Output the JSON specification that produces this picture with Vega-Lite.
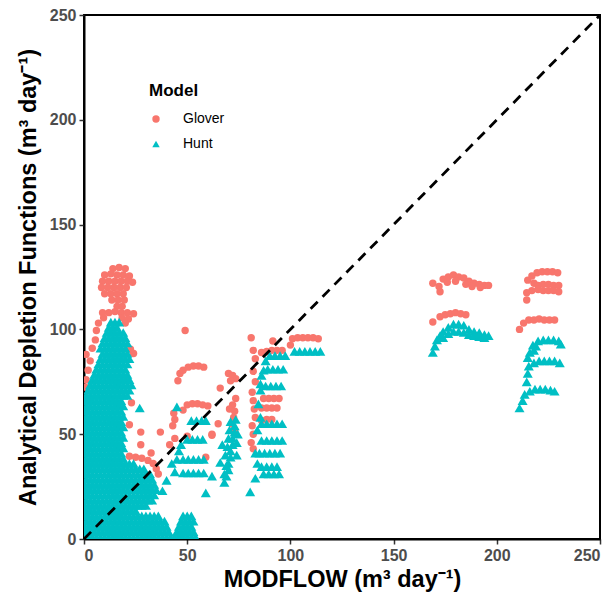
{
"$schema": "https://vega.github.io/schema/vega-lite/v6.json",
"width": 516, "height": 524,
"autosize": {"type": "none"},
"padding": {"left": 84, "top": 15, "right": 14, "bottom": 59},
"config": {
  "font": "Liberation Sans",
  "view": {"stroke": "black", "strokeWidth": 2},
  "axis": {"grid": false, "domainColor": "black", "domainWidth": 2, "tickColor": "#333333", "tickWidth": 1.5, "tickSize": 5, "labelFont": "Liberation Sans", "labelFontWeight": "bold", "labelColor": "#4D4D4D", "labelFontSize": 16, "titleFont": "Liberation Sans", "titleFontWeight": "bold", "titleFontSize": 23.5, "titleColor": "black", "labelPadding": 3},
  "legend": {"orient": "none", "legendX": 65, "legendY": 68, "titleFont": "Liberation Sans", "titleFontSize": 17, "titleFontWeight": "bold", "titleColor": "black", "titlePadding": 12, "labelFont": "Liberation Sans", "labelFontSize": 14, "labelColor": "black", "labelOffset": 20, "rowPadding": 11, "symbolSize": 55}
},
"datasets": {
"glover": [
{"x":14,"y":129},{"x":17,"y":129.5},{"x":20,"y":129},
{"x":10,"y":126},{"x":13,"y":126.5},{"x":16,"y":126},{"x":19,"y":126},{"x":22,"y":125.5},
{"x":9,"y":123},{"x":12,"y":123},{"x":15,"y":123},{"x":18,"y":123},{"x":21,"y":123},{"x":23.5,"y":122.5},
{"x":8.5,"y":120},{"x":11.5,"y":120},{"x":14.5,"y":120},{"x":17.5,"y":120},{"x":20.5,"y":120},
{"x":10,"y":117},{"x":13,"y":117},{"x":16,"y":117},{"x":19,"y":117},
{"x":13.5,"y":114},{"x":16.5,"y":114},{"x":19.5,"y":114},
{"x":16,"y":111},{"x":18.5,"y":111},
{"x":9,"y":108},{"x":12,"y":108},{"x":15,"y":108.5},{"x":18,"y":108},{"x":21,"y":108},{"x":24,"y":107.5},
{"x":9.5,"y":105.5},{"x":18.5,"y":105.5},{"x":21.5,"y":105},
{"x":7,"y":103},{"x":20,"y":103},{"x":6,"y":99.5},
{"x":5.5,"y":95},{"x":4,"y":91},{"x":1,"y":88},{"x":3,"y":85},{"x":2,"y":80.5},{"x":1,"y":76},{"x":0.5,"y":72.5},{"x":2,"y":67},{"x":1,"y":61},{"x":0.5,"y":57},
{"x":22.5,"y":90.5},{"x":24,"y":88.5},{"x":23,"y":65},{"x":22,"y":54.5},{"x":21,"y":76},
{"x":22,"y":39.5},{"x":25,"y":39},{"x":28,"y":38.5},{"x":31,"y":37.5},{"x":33.5,"y":36},{"x":35,"y":33.5},{"x":36,"y":31},
{"x":27.5,"y":51},{"x":27.5,"y":45},{"x":32.5,"y":41},{"x":37,"y":51},{"x":41.5,"y":45},{"x":44,"y":48},{"x":43.5,"y":60},{"x":44,"y":57},{"x":43,"y":54},
{"x":49,"y":99.5},{"x":46.5,"y":79},{"x":45.5,"y":75.5},{"x":48,"y":80.5},{"x":50.5,"y":82},{"x":53,"y":82.5},{"x":55.5,"y":82.5},{"x":58,"y":82},
{"x":48,"y":61.5},{"x":50,"y":64},{"x":52.5,"y":64.5},{"x":55,"y":64.5},{"x":57.5,"y":64},{"x":60,"y":63.5},{"x":50,"y":49},{"x":59,"y":39},{"x":62,"y":50},
{"x":70,"y":79},{"x":72,"y":78},{"x":73.5,"y":76.5},{"x":71,"y":75.5},{"x":66,"y":72},{"x":73.5,"y":67},{"x":72,"y":64},{"x":70.5,"y":62},{"x":73,"y":61},{"x":72.5,"y":58},{"x":71.5,"y":55},{"x":73,"y":52},{"x":65,"y":55},{"x":62,"y":49.5},
{"x":81,"y":96},{"x":82,"y":90},{"x":83,"y":86},{"x":82,"y":80},{"x":83,"y":75},{"x":81.5,"y":70},{"x":82,"y":66},{"x":82.5,"y":62},{"x":83,"y":58},{"x":81.5,"y":54},{"x":82,"y":50},{"x":81,"y":46},{"x":82,"y":43},
{"x":87,"y":67},{"x":89.5,"y":67},{"x":92,"y":67},{"x":94.5,"y":67},{"x":86,"y":62.5},{"x":88.5,"y":62.5},{"x":91,"y":62.5},{"x":93.5,"y":62.5},{"x":86,"y":56.5},{"x":88.5,"y":57},{"x":91,"y":57},
{"x":86,"y":89},{"x":88.5,"y":89.5},{"x":91,"y":90},{"x":93.5,"y":90},{"x":96,"y":90},{"x":91.5,"y":94.5},{"x":100,"y":92.5},
{"x":101,"y":95.5},{"x":103.5,"y":96},{"x":106,"y":96},{"x":108.5,"y":96},{"x":111,"y":96},{"x":113.5,"y":95.5},
{"x":169,"y":122},{"x":172.5,"y":118},{"x":172,"y":120.5},{"x":174,"y":124},{"x":176.5,"y":125},{"x":179,"y":126},{"x":181.5,"y":125},{"x":184,"y":124.5},{"x":186.5,"y":123},{"x":189,"y":122},{"x":191.5,"y":121.5},{"x":194,"y":121},{"x":196,"y":121},{"x":176,"y":122.5},{"x":180,"y":123},{"x":185,"y":121.5},{"x":188,"y":120.5},{"x":192,"y":120},
{"x":169,"y":103.5},{"x":172.5,"y":106},{"x":175,"y":107},{"x":177.5,"y":107.5},{"x":180,"y":108},{"x":182.5,"y":107.5},{"x":185,"y":107},
{"x":217,"y":125.5},{"x":219.5,"y":127},{"x":222,"y":127.5},{"x":224.5,"y":127.5},{"x":227,"y":127.5},{"x":229.5,"y":127},{"x":215,"y":123.5},{"x":218,"y":122},{"x":220,"y":121},{"x":222.5,"y":121.5},{"x":225,"y":121.5},{"x":227.5,"y":121},{"x":230,"y":121},{"x":214.5,"y":117.5},{"x":217,"y":118.5},{"x":220,"y":119},{"x":222.5,"y":118.5},{"x":225,"y":118.5},{"x":227.5,"y":118.5},{"x":230,"y":118},{"x":214.5,"y":114},
{"x":211,"y":100},{"x":213,"y":103},{"x":215.5,"y":104.5},{"x":218,"y":104.5},{"x":220.5,"y":105},{"x":223,"y":104.5},{"x":225.5,"y":104.5},{"x":228,"y":104.5}
],
"hunt": [
{"x":0,"y":1},{"x":2,"y":1},{"x":4,"y":1},{"x":6,"y":1},{"x":8,"y":1},{"x":10,"y":1},{"x":12,"y":1},{"x":14,"y":1},{"x":16,"y":1},{"x":18,"y":1},{"x":20,"y":1},{"x":22,"y":1},{"x":24,"y":1},{"x":26,"y":1},{"x":28,"y":1},{"x":30,"y":1},{"x":32,"y":1},{"x":34,"y":1},{"x":36,"y":1},{"x":38,"y":1},{"x":40,"y":1},{"x":42,"y":1},{"x":44,"y":1},{"x":46,"y":1},{"x":48,"y":1},{"x":50,"y":1},{"x":52,"y":1},{"x":54,"y":1},
{"x":1,"y":3.5},{"x":3,"y":3.5},{"x":5,"y":3.5},{"x":7,"y":3.5},{"x":9,"y":3.5},{"x":11,"y":3.5},{"x":13,"y":3.5},{"x":15,"y":3.5},{"x":17,"y":3.5},{"x":19,"y":3.5},{"x":21,"y":3.5},{"x":23,"y":3.5},{"x":25,"y":3.5},{"x":27,"y":3.5},{"x":29,"y":3.5},{"x":31,"y":3.5},{"x":33,"y":3.5},{"x":35,"y":3.5},{"x":37,"y":3.5},{"x":39,"y":3.5},{"x":41,"y":3.5},{"x":45,"y":3.5},{"x":47,"y":3.5},{"x":49,"y":3.5},{"x":51,"y":3.5},{"x":53,"y":3.5},
{"x":0,"y":6},{"x":2,"y":6},{"x":4,"y":6},{"x":6,"y":6},{"x":8,"y":6},{"x":10,"y":6},{"x":12,"y":6},{"x":14,"y":6},{"x":16,"y":6},{"x":18,"y":6},{"x":20,"y":6},{"x":22,"y":6},{"x":24,"y":6},{"x":26,"y":6},{"x":28,"y":6},{"x":30,"y":6},{"x":32,"y":6},{"x":34,"y":6},{"x":36,"y":6},{"x":38,"y":6},{"x":40,"y":6},{"x":46,"y":6},{"x":48,"y":6},{"x":50,"y":6},{"x":52,"y":6},
{"x":1,"y":8.5},{"x":3,"y":8.5},{"x":5,"y":8.5},{"x":7,"y":8.5},{"x":9,"y":8.5},{"x":11,"y":8.5},{"x":13,"y":8.5},{"x":15,"y":8.5},{"x":17,"y":8.5},{"x":19,"y":8.5},{"x":21,"y":8.5},{"x":23,"y":8.5},{"x":25,"y":8.5},{"x":27,"y":8.5},{"x":29,"y":8.5},{"x":31,"y":8.5},{"x":33,"y":8.5},{"x":35,"y":8.5},{"x":37,"y":8.5},{"x":39,"y":8.5},{"x":47,"y":8.5},{"x":49,"y":8.5},{"x":51,"y":8.5},{"x":53,"y":8.5},
{"x":0,"y":11},{"x":2,"y":11},{"x":4,"y":11},{"x":6,"y":11},{"x":8,"y":11},{"x":10,"y":11},{"x":12,"y":11},{"x":14,"y":11},{"x":16,"y":11},{"x":18,"y":11},{"x":20,"y":11},{"x":22,"y":11},{"x":24,"y":11},{"x":26,"y":11},{"x":28,"y":11},{"x":30,"y":11},{"x":32,"y":11},{"x":34,"y":11},{"x":36,"y":11},{"x":48,"y":11},{"x":50,"y":11},{"x":52,"y":11},
{"x":1,"y":13.5},{"x":3,"y":13.5},{"x":5,"y":13.5},{"x":7,"y":13.5},{"x":9,"y":13.5},{"x":11,"y":13.5},{"x":13,"y":13.5},{"x":15,"y":13.5},{"x":17,"y":13.5},{"x":19,"y":13.5},{"x":21,"y":13.5},{"x":23,"y":13.5},{"x":25,"y":13.5},
{"x":0,"y":16},{"x":2,"y":16},{"x":4,"y":16},{"x":6,"y":16},{"x":8,"y":16},{"x":10,"y":16},{"x":12,"y":16},{"x":14,"y":16},{"x":16,"y":16},{"x":18,"y":16},{"x":20,"y":16},{"x":22,"y":16},{"x":24,"y":16},{"x":26,"y":16},{"x":28,"y":16},{"x":30,"y":16},
{"x":1,"y":18.5},{"x":3,"y":18.5},{"x":5,"y":18.5},{"x":7,"y":18.5},{"x":9,"y":18.5},{"x":11,"y":18.5},{"x":13,"y":18.5},{"x":15,"y":18.5},{"x":17,"y":18.5},{"x":19,"y":18.5},{"x":21,"y":18.5},{"x":23,"y":18.5},{"x":25,"y":18.5},{"x":27,"y":18.5},{"x":29,"y":18.5},{"x":31,"y":18.5},{"x":33,"y":18.5},
{"x":0,"y":21},{"x":2,"y":21},{"x":4,"y":21},{"x":6,"y":21},{"x":8,"y":21},{"x":10,"y":21},{"x":12,"y":21},{"x":14,"y":21},{"x":16,"y":21},{"x":18,"y":21},{"x":20,"y":21},{"x":22,"y":21},{"x":24,"y":21},{"x":26,"y":21},{"x":28,"y":21},{"x":30,"y":21},{"x":32,"y":21},{"x":34,"y":21},
{"x":1,"y":23.5},{"x":3,"y":23.5},{"x":5,"y":23.5},{"x":7,"y":23.5},{"x":9,"y":23.5},{"x":11,"y":23.5},{"x":13,"y":23.5},{"x":15,"y":23.5},{"x":17,"y":23.5},{"x":19,"y":23.5},{"x":21,"y":23.5},{"x":23,"y":23.5},{"x":25,"y":23.5},{"x":27,"y":23.5},{"x":29,"y":23.5},{"x":31,"y":23.5},{"x":33,"y":23.5},{"x":35,"y":23.5},
{"x":0,"y":26},{"x":2,"y":26},{"x":4,"y":26},{"x":6,"y":26},{"x":8,"y":26},{"x":10,"y":26},{"x":12,"y":26},{"x":14,"y":26},{"x":16,"y":26},{"x":18,"y":26},{"x":20,"y":26},{"x":22,"y":26},{"x":24,"y":26},{"x":26,"y":26},{"x":28,"y":26},{"x":30,"y":26},{"x":32,"y":26},{"x":34,"y":26},
{"x":1,"y":28.5},{"x":3,"y":28.5},{"x":5,"y":28.5},{"x":7,"y":28.5},{"x":9,"y":28.5},{"x":11,"y":28.5},{"x":13,"y":28.5},{"x":15,"y":28.5},{"x":17,"y":28.5},{"x":19,"y":28.5},{"x":21,"y":28.5},{"x":23,"y":28.5},{"x":25,"y":28.5},{"x":27,"y":28.5},{"x":29,"y":28.5},{"x":31,"y":28.5},{"x":33,"y":28.5},
{"x":0,"y":31},{"x":2,"y":31},{"x":4,"y":31},{"x":6,"y":31},{"x":8,"y":31},{"x":10,"y":31},{"x":12,"y":31},{"x":14,"y":31},{"x":16,"y":31},{"x":18,"y":31},{"x":20,"y":31},{"x":22,"y":31},{"x":24,"y":31},{"x":26,"y":31},{"x":28,"y":31},{"x":30,"y":31},{"x":32,"y":31},
{"x":1,"y":33.5},{"x":3,"y":33.5},{"x":5,"y":33.5},{"x":7,"y":33.5},{"x":9,"y":33.5},{"x":11,"y":33.5},{"x":13,"y":33.5},{"x":15,"y":33.5},{"x":17,"y":33.5},{"x":19,"y":33.5},{"x":21,"y":33.5},{"x":23,"y":33.5},{"x":25,"y":33.5},{"x":27,"y":33.5},{"x":29,"y":33.5},
{"x":0,"y":36},{"x":2,"y":36},{"x":4,"y":36},{"x":6,"y":36},{"x":8,"y":36},{"x":10,"y":36},{"x":12,"y":36},{"x":14,"y":36},{"x":16,"y":36},{"x":18,"y":36},{"x":20,"y":36},{"x":22,"y":36},{"x":24,"y":36},
{"x":1,"y":38.5},{"x":3,"y":38.5},{"x":5,"y":38.5},{"x":7,"y":38.5},{"x":9,"y":38.5},{"x":11,"y":38.5},{"x":13,"y":38.5},{"x":15,"y":38.5},{"x":17,"y":38.5},{"x":19,"y":38.5},
{"x":0,"y":41},{"x":2,"y":41},{"x":4,"y":41},{"x":6,"y":41},{"x":8,"y":41},{"x":10,"y":41},{"x":12,"y":41},{"x":14,"y":41},{"x":16,"y":41},{"x":18,"y":41},
{"x":1,"y":43.5},{"x":3,"y":43.5},{"x":5,"y":43.5},{"x":7,"y":43.5},{"x":9,"y":43.5},{"x":11,"y":43.5},{"x":13,"y":43.5},{"x":15,"y":43.5},{"x":17,"y":43.5},{"x":19,"y":43.5},
{"x":0,"y":46},{"x":2,"y":46},{"x":4,"y":46},{"x":6,"y":46},{"x":8,"y":46},{"x":10,"y":46},{"x":12,"y":46},{"x":14,"y":46},{"x":16,"y":46},{"x":18,"y":46},
{"x":1,"y":48.5},{"x":3,"y":48.5},{"x":5,"y":48.5},{"x":7,"y":48.5},{"x":9,"y":48.5},{"x":11,"y":48.5},{"x":13,"y":48.5},{"x":15,"y":48.5},{"x":17,"y":48.5},{"x":19,"y":48.5},
{"x":0,"y":51},{"x":2,"y":51},{"x":4,"y":51},{"x":6,"y":51},{"x":8,"y":51},{"x":10,"y":51},{"x":12,"y":51},{"x":14,"y":51},{"x":16,"y":51},{"x":18,"y":51},
{"x":1,"y":53.5},{"x":3,"y":53.5},{"x":5,"y":53.5},{"x":7,"y":53.5},{"x":9,"y":53.5},{"x":11,"y":53.5},{"x":13,"y":53.5},{"x":15,"y":53.5},{"x":17,"y":53.5},{"x":19,"y":53.5},
{"x":0,"y":56},{"x":2,"y":56},{"x":4,"y":56},{"x":6,"y":56},{"x":8,"y":56},{"x":10,"y":56},{"x":12,"y":56},{"x":14,"y":56},{"x":16,"y":56},{"x":18,"y":56},
{"x":1,"y":58.5},{"x":3,"y":58.5},{"x":5,"y":58.5},{"x":7,"y":58.5},{"x":9,"y":58.5},{"x":11,"y":58.5},{"x":13,"y":58.5},{"x":15,"y":58.5},{"x":17,"y":58.5},{"x":19,"y":58.5},
{"x":0,"y":61},{"x":2,"y":61},{"x":4,"y":61},{"x":6,"y":61},{"x":8,"y":61},{"x":10,"y":61},{"x":12,"y":61},{"x":14,"y":61},{"x":16,"y":61},{"x":18,"y":61},
{"x":1,"y":63.5},{"x":3,"y":63.5},{"x":5,"y":63.5},{"x":7,"y":63.5},{"x":9,"y":63.5},{"x":11,"y":63.5},{"x":13,"y":63.5},{"x":15,"y":63.5},{"x":17,"y":63.5},{"x":19,"y":63.5},
{"x":0,"y":66},{"x":2,"y":66},{"x":4,"y":66},{"x":6,"y":66},{"x":8,"y":66},{"x":10,"y":66},{"x":12,"y":66},{"x":14,"y":66},{"x":16,"y":66},{"x":18,"y":66},
{"x":1,"y":68.5},{"x":3,"y":68.5},{"x":5,"y":68.5},{"x":7,"y":68.5},{"x":9,"y":68.5},{"x":11,"y":68.5},{"x":13,"y":68.5},{"x":15,"y":68.5},{"x":17,"y":68.5},{"x":19,"y":68.5},{"x":21,"y":68.5},
{"x":2,"y":71},{"x":4,"y":71},{"x":6,"y":71},{"x":8,"y":71},{"x":10,"y":71},{"x":12,"y":71},{"x":14,"y":71},{"x":16,"y":71},{"x":18,"y":71},{"x":20,"y":71},{"x":22,"y":71},
{"x":3,"y":73.5},{"x":5,"y":73.5},{"x":7,"y":73.5},{"x":9,"y":73.5},{"x":11,"y":73.5},{"x":13,"y":73.5},{"x":15,"y":73.5},{"x":17,"y":73.5},{"x":19,"y":73.5},{"x":21,"y":73.5},{"x":23,"y":73.5},
{"x":4,"y":76},{"x":6,"y":76},{"x":8,"y":76},{"x":10,"y":76},{"x":12,"y":76},{"x":14,"y":76},{"x":16,"y":76},{"x":18,"y":76},{"x":20,"y":76},{"x":22,"y":76},
{"x":5,"y":78.5},{"x":7,"y":78.5},{"x":9,"y":78.5},{"x":11,"y":78.5},{"x":13,"y":78.5},{"x":15,"y":78.5},{"x":17,"y":78.5},{"x":19,"y":78.5},{"x":21,"y":78.5},
{"x":6,"y":81},{"x":8,"y":81},{"x":10,"y":81},{"x":12,"y":81},{"x":14,"y":81},{"x":16,"y":81},{"x":18,"y":81},{"x":20,"y":81},
{"x":7,"y":83.5},{"x":9,"y":83.5},{"x":11,"y":83.5},{"x":13,"y":83.5},{"x":15,"y":83.5},{"x":17,"y":83.5},{"x":19,"y":83.5},{"x":21,"y":83.5},
{"x":8,"y":86},{"x":10,"y":86},{"x":12,"y":86},{"x":14,"y":86},{"x":16,"y":86},{"x":18,"y":86},{"x":20,"y":86},{"x":22,"y":86},
{"x":9,"y":88.5},{"x":11,"y":88.5},{"x":13,"y":88.5},{"x":15,"y":88.5},{"x":17,"y":88.5},{"x":19,"y":88.5},{"x":21,"y":88.5},
{"x":8,"y":91},{"x":10,"y":91},{"x":12,"y":91},{"x":14,"y":91},{"x":16,"y":91},{"x":18,"y":91},{"x":20,"y":91},
{"x":9,"y":93.5},{"x":11,"y":93.5},{"x":13,"y":93.5},{"x":15,"y":93.5},{"x":17,"y":93.5},{"x":19,"y":93.5},{"x":21,"y":93.5},
{"x":10,"y":96},{"x":12,"y":96},{"x":14,"y":96},{"x":16,"y":96},{"x":18,"y":96},{"x":20,"y":96},
{"x":11,"y":98.5},{"x":13,"y":98.5},{"x":15,"y":98.5},{"x":17,"y":98.5},{"x":19,"y":98.5},
{"x":12,"y":101},{"x":14,"y":101},{"x":16,"y":101},
{"x":13,"y":103.5},{"x":15,"y":103.5},{"x":17,"y":103.5},
{"x":27,"y":62.5},{"x":38,"y":23},{"x":40,"y":28},{"x":42.5,"y":36},{"x":44,"y":32},{"x":45,"y":38},{"x":46,"y":42},{"x":47,"y":45},{"x":45,"y":63},{"x":59,"y":22},{"x":62,"y":30},
{"x":48,"y":31.5},{"x":50.5,"y":31.5},{"x":53,"y":31.5},{"x":55.5,"y":31.5},{"x":58,"y":31.5},
{"x":48,"y":38},{"x":50.5,"y":38},{"x":53,"y":38},{"x":55.5,"y":38},{"x":58,"y":38},
{"x":50,"y":47.5},{"x":52.5,"y":47.5},{"x":55,"y":47.5},{"x":57.5,"y":47.5},
{"x":52,"y":56.5},{"x":54.5,"y":56.5},{"x":57,"y":56.5},{"x":59,"y":56.5},
{"x":68,"y":27},{"x":69,"y":30},{"x":70,"y":33},{"x":70,"y":36},{"x":71,"y":39},{"x":71,"y":42},{"x":72,"y":45},{"x":72,"y":48},{"x":73,"y":51},{"x":73,"y":54},{"x":73.5,"y":57},{"x":68,"y":31},{"x":69,"y":35},{"x":68.5,"y":40},{"x":69.5,"y":44},{"x":70,"y":48},{"x":70.5,"y":52},{"x":71,"y":56},{"x":66,"y":36.5},{"x":67,"y":45},{"x":74,"y":40},{"x":74,"y":46},{"x":74.5,"y":50},
{"x":80.5,"y":22.5},{"x":83,"y":29},{"x":84,"y":36},{"x":83,"y":41},{"x":84,"y":52},{"x":85.5,"y":58},{"x":84.5,"y":64.5},{"x":85.5,"y":71},{"x":85.5,"y":74},{"x":86,"y":78},{"x":87,"y":80.5},{"x":88,"y":85},
{"x":87,"y":31},{"x":89.5,"y":31},{"x":92,"y":31},{"x":94.5,"y":31},
{"x":86,"y":34.5},{"x":88.5,"y":34.5},{"x":91,"y":34.5},{"x":93.5,"y":34.5},
{"x":85,"y":41},{"x":87.5,"y":41},{"x":90,"y":41},{"x":92.5,"y":41},{"x":95,"y":41},
{"x":86,"y":47},{"x":88.5,"y":47},{"x":91,"y":47},{"x":93.5,"y":47},{"x":96,"y":47},
{"x":86,"y":55},{"x":88.5,"y":55},{"x":91,"y":55},{"x":93.5,"y":55},{"x":96,"y":55},
{"x":88,"y":73},{"x":90.5,"y":73},{"x":93,"y":73},{"x":95.5,"y":73},
{"x":89,"y":81},{"x":91.5,"y":81},{"x":94,"y":81},{"x":96.5,"y":81},
{"x":90,"y":87.5},{"x":92.5,"y":87.5},{"x":95,"y":87.5},{"x":97.5,"y":87.5},
{"x":102,"y":89.5},{"x":104.5,"y":89.5},{"x":107,"y":89.5},{"x":109.5,"y":89.5},{"x":112,"y":89.5},{"x":114.5,"y":89.5},
{"x":169,"y":89},{"x":170,"y":92},{"x":171,"y":95},{"x":172.5,"y":97},{"x":174,"y":99},{"x":176.5,"y":101},{"x":179,"y":102.5},{"x":181.5,"y":102.5},{"x":184,"y":102},{"x":186.5,"y":100},{"x":189,"y":99},{"x":191.5,"y":98.5},{"x":194,"y":97.5},{"x":196,"y":97},{"x":176.5,"y":98},{"x":179,"y":99},{"x":181.5,"y":99},{"x":184,"y":98.5},{"x":186.5,"y":97.5},{"x":189,"y":97},{"x":191.5,"y":96.5},{"x":194,"y":96},{"x":174,"y":96},
{"x":211,"y":62.5},{"x":212.5,"y":66},{"x":213.5,"y":69},{"x":216,"y":70.5},{"x":218.5,"y":71.5},{"x":221,"y":71.5},{"x":223.5,"y":71.5},{"x":226,"y":71},{"x":228,"y":70.5},{"x":214.5,"y":75},{"x":215,"y":79},{"x":215.5,"y":82.5},{"x":218,"y":84},{"x":220.5,"y":85},{"x":223,"y":85},{"x":225.5,"y":85},{"x":228,"y":85},{"x":230.5,"y":84},{"x":215,"y":86.5},{"x":216,"y":89},{"x":218,"y":90},{"x":219,"y":92},{"x":217.5,"y":92.5},{"x":220,"y":94.5},{"x":222.5,"y":95},{"x":225,"y":95},{"x":227.5,"y":95},{"x":230,"y":94.5},{"x":231,"y":93}
]
},
"layer": [
{
 "data": {"name": "glover"},
 "mark": {"type": "point", "filled": true, "opacity": 1, "size": 55, "clip": true},
 "encoding": {
  "x": {"field": "x", "type": "quantitative", "scale": {"domain": [0, 250], "nice": false, "zero": false}, "axis": {"values": [0, 50, 100, 150, 200, 250], "title": "MODFLOW (m³ day⁻¹)", "titlePadding": 4}},
  "y": {"field": "y", "type": "quantitative", "scale": {"domain": [0, 250], "nice": false, "zero": false}, "axis": {"values": [0, 50, 100, 150, 200, 250], "title": "Analytical Depletion Functions (m³ day⁻¹)", "titlePadding": 9}},
  "color": {"datum": "Glover", "type": "nominal", "scale": {"domain": ["Glover", "Hunt"], "range": ["#F8766D", "#00BFC4"]}, "legend": {"title": "Model"}},
  "shape": {"datum": "Glover", "type": "nominal", "scale": {"domain": ["Glover", "Hunt"], "range": ["circle", "triangle-up"]}, "legend": {"title": "Model"}}
 }
},
{
 "data": {"name": "hunt"},
 "mark": {"type": "point", "filled": true, "opacity": 1, "size": 100, "clip": true},
 "encoding": {
  "x": {"field": "x", "type": "quantitative"},
  "y": {"field": "y", "type": "quantitative"},
  "color": {"datum": "Hunt", "type": "nominal"},
  "shape": {"datum": "Hunt", "type": "nominal"}
 }
},
{
 "data": {"values": [{"x": 0, "y": 0, "x2": 250, "y2": 250}]},
 "mark": {"type": "rule", "color": "black", "strokeWidth": 2.8, "strokeDash": [10, 7]},
 "encoding": {
  "x": {"field": "x", "type": "quantitative"},
  "y": {"field": "y", "type": "quantitative"},
  "x2": {"field": "x2"},
  "y2": {"field": "y2"}
 }
}
],
"resolve": {"scale": {"color": "shared", "shape": "shared"}}
}
